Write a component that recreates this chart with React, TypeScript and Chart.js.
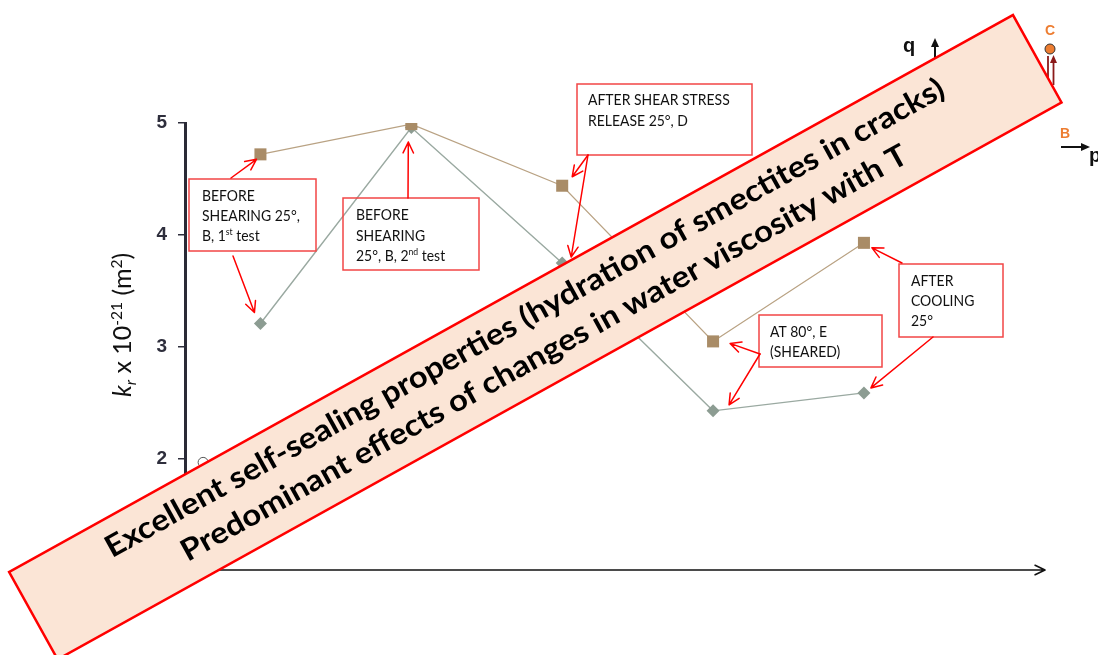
import React, { useEffect, useRef } from 'react';
import { Chart, registerables } from 'chart.js';

Chart.register(...registerables);

// ---------- data ----------
const stages = [1, 2, 3, 4, 5];
const tanValues = [4.72, 4.99, 4.44, 3.05, 3.93];
const grayValues = [3.21, 4.96, 3.75, 2.43, 2.59];
const openPointX = [0.62];
const openPointY = [1.97];
const yTickValues = [1, 2, 3, 4, 5];

const bannerLine1 = 'Excellent self-sealing properties (hydration of smectites in cracks)';
const bannerLine2 = 'Predominant effects of changes in water viscosity with T';

type Seg = { t: string; sup?: boolean; sub?: boolean; italic?: boolean };

const yTitle: Seg[] = [
  { t: 'k', italic: true },
  { t: 'r', italic: true, sub: true },
  { t: ' x 10' },
  { t: '-21', sup: true },
  { t: ' (m' },
  { t: '2', sup: true },
  { t: ')' },
];

type Note = {
  box: [number, number, number, number];
  tx: number;
  baselines: number[];
  lines: Seg[][];
  arrows: { from: [number, number]; ds: number; idx: number; off: [number, number] }[];
};

const notes: Note[] = [
  {
    box: [189, 179, 127, 72],
    tx: 202,
    baselines: [201, 221, 241],
    lines: [[{ t: 'BEFORE' }], [{ t: 'SHEARING 25°,' }], [{ t: 'B, 1' }, { t: 'st', sup: true }, { t: ' test' }]],
    arrows: [
      { from: [231, 178], ds: 0, idx: 0, off: [-4, 5] },
      { from: [233, 256], ds: 1, idx: 0, off: [-6, -11] },
    ],
  },
  {
    box: [343, 198, 136, 72],
    tx: 356,
    baselines: [220, 241, 261],
    lines: [[{ t: 'BEFORE' }], [{ t: 'SHEARING' }], [{ t: '25°, B, 2' }, { t: 'nd', sup: true }, { t: ' test' }]],
    arrows: [{ from: [408, 198], ds: 0, idx: 1, off: [-3, 18] }],
  },
  {
    box: [577, 84, 175, 71],
    tx: 588,
    baselines: [105, 126],
    lines: [[{ t: 'AFTER SHEAR STRESS' }], [{ t: 'RELEASE 25°, D' }]],
    arrows: [
      { from: [588, 155], ds: 0, idx: 2, off: [10, -9] },
      { from: [588, 155], ds: 1, idx: 2, off: [9, -6] },
    ],
  },
  {
    box: [759, 315, 123, 52],
    tx: 770,
    baselines: [337, 357],
    lines: [[{ t: 'AT 80°, E' }], [{ t: '(SHEARED)' }]],
    arrows: [
      { from: [760, 354], ds: 0, idx: 3, off: [17, 2] },
      { from: [760, 354], ds: 1, idx: 3, off: [16, -6] },
    ],
  },
  {
    box: [899, 264, 104, 73],
    tx: 911,
    baselines: [286, 306, 326],
    lines: [[{ t: 'AFTER' }], [{ t: 'COOLING' }], [{ t: '25°' }]],
    arrows: [
      { from: [902, 263], ds: 0, idx: 4, off: [8, 5] },
      { from: [933, 337], ds: 1, idx: 4, off: [7, -5] },
    ],
  },
];

// ---------- helpers ----------
function richWidth(ctx: CanvasRenderingContext2D, segs: Seg[], size: number, family: string, weight: string) {
  let w = 0;
  for (const s of segs) {
    const fs = s.sup || s.sub ? size * 0.62 : size;
    ctx.font = `${s.italic ? 'italic ' : ''}${weight} ${fs}px ${family}`;
    w += ctx.measureText(s.t).width;
  }
  return w;
}

function drawRich(
  ctx: CanvasRenderingContext2D,
  segs: Seg[],
  x: number,
  y: number,
  size: number,
  family: string,
  weight: string,
  color: string,
  hScale = 1
) {
  ctx.save();
  ctx.translate(x, y);
  ctx.scale(hScale, 1);
  ctx.fillStyle = color;
  ctx.textBaseline = 'alphabetic';
  ctx.textAlign = 'left';
  let cx = 0;
  for (const s of segs) {
    const small = s.sup || s.sub;
    const fs = small ? size * 0.62 : size;
    ctx.font = `${s.italic ? 'italic ' : ''}${weight} ${fs}px ${family}`;
    const dy = s.sup ? -size * 0.38 : s.sub ? size * 0.2 : 0;
    ctx.fillText(s.t, cx, dy);
    cx += ctx.measureText(s.t).width;
  }
  ctx.restore();
}

function openArrow(ctx: CanvasRenderingContext2D, x1: number, y1: number, x2: number, y2: number, color: string, lw: number, head: number) {
  const a = Math.atan2(y2 - y1, x2 - x1);
  const spread = 0.45;
  ctx.save();
  ctx.strokeStyle = color;
  ctx.lineWidth = lw;
  ctx.lineCap = 'round';
  ctx.lineJoin = 'round';
  ctx.beginPath();
  ctx.moveTo(x1, y1);
  ctx.lineTo(x2, y2);
  ctx.moveTo(x2 - head * Math.cos(a - spread), y2 - head * Math.sin(a - spread));
  ctx.lineTo(x2, y2);
  ctx.lineTo(x2 - head * Math.cos(a + spread), y2 - head * Math.sin(a + spread));
  ctx.stroke();
  ctx.restore();
}

function filledArrow(ctx: CanvasRenderingContext2D, x1: number, y1: number, x2: number, y2: number, color: string, lw: number, head: number, half: number) {
  const a = Math.atan2(y2 - y1, x2 - x1);
  const bx = x2 - head * Math.cos(a);
  const by = y2 - head * Math.sin(a);
  ctx.save();
  ctx.strokeStyle = color;
  ctx.fillStyle = color;
  ctx.lineWidth = lw;
  ctx.beginPath();
  ctx.moveTo(x1, y1);
  ctx.lineTo(bx, by);
  ctx.stroke();
  ctx.beginPath();
  ctx.moveTo(x2, y2);
  ctx.lineTo(bx + half * Math.sin(a), by - half * Math.cos(a));
  ctx.lineTo(bx - half * Math.sin(a), by + half * Math.cos(a));
  ctx.closePath();
  ctx.fill();
  ctx.restore();
}

const decorPlugin = {
  id: 'decor',
  afterDatasetsDraw(chart: any) {
    const ctx: CanvasRenderingContext2D = chart.ctx;
    const area = chart.chartArea;
    const noteFont = 'Lato';

    // x axis arrow
    openArrow(ctx, area.left, area.bottom - 1, area.right, area.bottom - 1, '#111111', 1.6, 11);

    // y axis title
    ctx.save();
    ctx.translate(122, 325);
    ctx.rotate(-Math.PI / 2);
    const tw = richWidth(ctx, yTitle, 25, 'Lato', 'normal');
    drawRich(ctx, yTitle, -tw / 2, 9, 25, 'Lato', 'normal', '#111111');
    ctx.restore();

    // annotation boxes and arrows
    for (const n of notes) {
      ctx.save();
      ctx.strokeStyle = '#f24646';
      ctx.lineWidth = 1.5;
      ctx.strokeRect(n.box[0], n.box[1], n.box[2], n.box[3]);
      ctx.restore();
      n.lines.forEach((ln, i) => drawRich(ctx, ln, n.tx, n.baselines[i], 15, noteFont, 'normal', '#111111', 0.93));
      for (const a of n.arrows) {
        const el = chart.getDatasetMeta(a.ds).data[a.idx];
        openArrow(ctx, a.from[0], a.from[1], el.x + a.off[0], el.y + a.off[1], '#ff0000', 1.5, 12);
      }
    }

    // top-right stress-path sketch
    ctx.save();
    ctx.fillStyle = '#111111';
    ctx.font = 'bold 20px "Liberation Sans"';
    ctx.textBaseline = 'alphabetic';
    ctx.fillText('q', 903, 52);
    ctx.fillText('p', 1089, 162);
    ctx.fillStyle = '#ed7d31';
    ctx.font = 'bold 14px "Liberation Sans"';
    ctx.fillText('C', 1045, 35);
    ctx.fillText('B', 1060, 138);
    ctx.restore();
    filledArrow(ctx, 935, 62, 935, 38, '#111111', 2, 9, 4);
    filledArrow(ctx, 1061, 147, 1090, 147, '#111111', 2, 9, 4);
    ctx.save();
    ctx.strokeStyle = '#8b1a1a';
    ctx.lineWidth = 1.8;
    ctx.beginPath();
    ctx.moveTo(1048, 56);
    ctx.lineTo(1048, 85);
    ctx.stroke();
    ctx.restore();
    filledArrow(ctx, 1053.5, 85, 1053.5, 55, '#8b1a1a', 1.8, 8, 3.5);
    ctx.save();
    ctx.beginPath();
    ctx.arc(1050, 49, 5, 0, Math.PI * 2);
    ctx.fillStyle = '#ed7d31';
    ctx.fill();
    ctx.strokeStyle = '#333333';
    ctx.lineWidth = 1;
    ctx.stroke();
    ctx.restore();
  },
  afterDraw(chart: any) {
    const ctx: CanvasRenderingContext2D = chart.ctx;
    const cx = 535.3;
    const cy = 337.2;
    const W = 1148;
    const H = 100;
    const ang = (-29.02 * Math.PI) / 180;
    ctx.save();
    ctx.translate(cx, cy);
    ctx.rotate(ang);
    ctx.fillStyle = '#fbe5d6';
    ctx.fillRect(-W / 2, -H / 2, W, H);
    ctx.strokeStyle = '#ff0000';
    ctx.lineWidth = 2.5;
    ctx.strokeRect(-W / 2, -H / 2, W, H);
    const size = 30;
    ctx.font = `bold ${size}px Lato`;
    const w1 = ctx.measureText(bannerLine1).width;
    const hs = 955 / w1;
    const w2 = ctx.measureText(bannerLine2).width * hs;
    drawRich(ctx, [{ t: bannerLine1 }], -955 / 2, -12, size, 'Lato', 'bold', '#000000', hs);
    drawRich(ctx, [{ t: bannerLine2 }], -w2 / 2, 28, size, 'Lato', 'bold', '#000000', hs);
    ctx.restore();
  },
};

export default function App() {
  const ref = useRef<HTMLCanvasElement | null>(null);

  useEffect(() => {
    document.body.style.margin = '0';
    document.body.style.overflow = 'hidden';
    const canvas = ref.current;
    if (!canvas) return;
    const chart = new Chart(canvas, {
      type: 'line',
      data: {
        datasets: [
          {
            label: 'tan',
            data: stages.map((s, i) => ({ x: s, y: tanValues[i] })),
            borderColor: '#b9a283',
            borderWidth: 1.2,
            pointStyle: 'rect',
            pointRadius: 8.5,
            pointBackgroundColor: '#a98c67',
            pointBorderColor: '#a98c67',
            pointBorderWidth: 0,
            tension: 0,
          },
          {
            label: 'gray',
            data: stages.map((s, i) => ({ x: s, y: grayValues[i] })),
            borderColor: '#9aa9a1',
            borderWidth: 1.4,
            pointStyle: 'rectRot',
            pointRadius: 6.5,
            pointBackgroundColor: '#8c9c92',
            pointBorderColor: '#8c9c92',
            pointBorderWidth: 0,
            tension: 0,
          },
          {
            label: 'open',
            data: openPointX.map((x, i) => ({ x, y: openPointY[i] })),
            showLine: false,
            pointStyle: 'circle',
            pointRadius: 5,
            pointBackgroundColor: '#ffffff',
            pointBorderColor: '#555555',
            pointBorderWidth: 1,
          },
        ],
      },
      options: {
        animation: false,
        responsive: true,
        maintainAspectRatio: false,
        layout: { padding: { left: 0, right: 53, top: 123, bottom: 84 } },
        plugins: { legend: { display: false }, tooltip: { enabled: false } },
        scales: {
          x: { type: 'linear', display: false, min: 0.5, max: 6.2 },
          y: {
            type: 'linear',
            min: 1,
            max: 5,
            afterFit: (s: any) => {
              s.width = 185;
            },
            afterBuildTicks: (s: any) => {
              s.ticks = yTickValues.map((v) => ({ value: v }));
            },
            ticks: {
              color: '#2e2e3c',
              font: { family: '"Liberation Sans"', weight: 'bold', size: 19 },
              padding: 11,
            },
            grid: {
              display: true,
              drawOnChartArea: false,
              drawTicks: true,
              tickLength: 7,
              color: '#2e2e3c',
              lineWidth: 1.5,
            },
            border: { display: true, color: '#2a2a36', width: 3 },
          },
        },
      },
      plugins: [decorPlugin],
    });
    return () => chart.destroy();
  }, []);

  return (
    <div style={{ position: 'relative', width: '1098px', height: '655px', background: '#ffffff' }}>
      <canvas ref={ref} />
    </div>
  );
}
